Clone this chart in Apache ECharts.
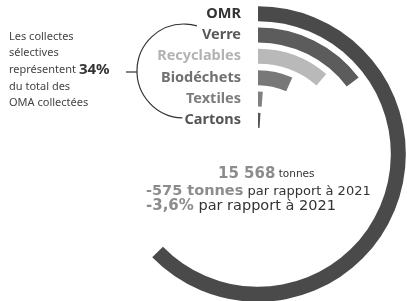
<!DOCTYPE html>
<html>
<head>
<meta charset="utf-8">
<script src="https://cdn.jsdelivr.net/npm/echarts@6/dist/echarts.min.js"></script>
<style>
  html, body { margin: 0; padding: 0; background: #fff; }
  #chart { width: 407px; height: 301px; }
</style>
</head>
<body>
<div id="chart"></div>
<script>
  const categories = ["OMR", "Verre", "Recyclables", "Biodéchets", "Textiles", "Cartons"];
  const tonnages = [9760, 2280, 1750, 1045, 190, 150];
  const total = 15568;
  const barColors = ["#4a4a4a", "#5c5c5c", "#b9b9b9", "#787878", "#808080", "#555555"];
  const labelColors = ["#333333", "#5a5a5a", "#b3b3b3", "#707070", "#7d7d7d", "#555555"];
  const summaryLines = [
    ["15 568", " tonnes"],
    ["-575 tonnes", " par rapport à 2021"],
    ["-3,6%", " par rapport à 2021"],
  ];
  const sideNote = ["Les collectes", "sélectives", "représentent ", "du total des", "OMA collectées"];
  const sideShare = "34%";

  const FONT = "Noto Sans";
  const WIDE = "DejaVu Sans";
  const chart = echarts.init(document.getElementById("chart"), null, { renderer: "canvas" });

  const grey = "#8c8c8c";
  const summaryRich = {
    a1: { fill: grey, fontFamily: WIDE, fontWeight: "bold", fontSize: 15 },
    r1: { fill: "#333", fontFamily: WIDE, fontSize: 10.5 },
    a2: { fill: grey, fontFamily: WIDE, fontWeight: "bold", fontSize: 14.5 },
    r2: { fill: "#333", fontFamily: WIDE, fontSize: 13 },
    a3: { fill: grey, fontFamily: WIDE, fontWeight: "bold", fontSize: 15 },
    r3: { fill: "#333", fontFamily: WIDE, fontSize: 14.5 },
  };

  const noteStyle = { fill: "#444", font: "11px " + FONT };

  chart.setOption({
    animation: false,
    polar: { center: [258, 154], radius: [23, 151] },
    angleAxis: {
      type: "value",
      min: 0,
      max: total,
      startAngle: 90,
      show: false,
    },
    radiusAxis: {
      type: "category",
      data: categories,
      inverse: true,
      axisLine: { show: false },
      axisTick: { show: false },
      splitLine: { show: false },
      axisLabel: { show: false },
    },
    series: [{
      type: "bar",
      coordinateSystem: "polar",
      barWidth: 15,
      data: tonnages.map((v, i) => ({
        value: v,
        itemStyle: { color: barColors[i] },
        label: { color: labelColors[i] },
      })),
      label: {
        show: true,
        position: "start",
        offset: [-12, 0],
        fontFamily: FONT,
        fontWeight: "bold",
        fontSize: 14.5,
        formatter: (p) => p.name,
      },
    }],
    graphic: [
      {
        type: "arc",
        shape: { cx: 184, cy: 71, r: 47, startAngle: 92 * Math.PI / 180, endAngle: 286 * Math.PI / 180, clockwise: true },
        style: { stroke: "#333", lineWidth: 1.2, fill: null },
      },
      {
        type: "line",
        shape: { x1: 126, y1: 72, x2: 137, y2: 72 },
        style: { stroke: "#333", lineWidth: 1.2 },
      },
      { type: "text", left: 9, top: 31, style: Object.assign({ text: sideNote[0] }, noteStyle) },
      { type: "text", left: 9, top: 47, style: Object.assign({ text: sideNote[1] }, noteStyle) },
      {
        type: "text", left: 9, top: 62,
        style: {
          text: `{r|${sideNote[2]}}{b|${sideShare}}`,
          rich: {
            r: { fill: "#444", fontFamily: FONT, fontSize: 11 },
            b: { fill: "#333", fontFamily: FONT, fontWeight: "bold", fontSize: 15 },
          },
        },
      },
      { type: "text", left: 9, top: 81, style: Object.assign({ text: sideNote[3] }, noteStyle) },
      { type: "text", left: 9, top: 97, style: Object.assign({ text: sideNote[4] }, noteStyle) },
      {
        type: "text", left: 218, top: 167,
        style: { text: `{a1|${summaryLines[0][0]}}{r1|${summaryLines[0][1]}}`, rich: summaryRich },
      },
      {
        type: "text", left: 146, top: 184,
        style: { text: `{a2|${summaryLines[1][0]}}{r2|${summaryLines[1][1]}}`, rich: summaryRich },
      },
      {
        type: "text", left: 146, top: 199,
        style: { text: `{a3|${summaryLines[2][0]}}{r3|${summaryLines[2][1]}}`, rich: summaryRich },
      },
    ],
  });
</script>
</body>
</html>
